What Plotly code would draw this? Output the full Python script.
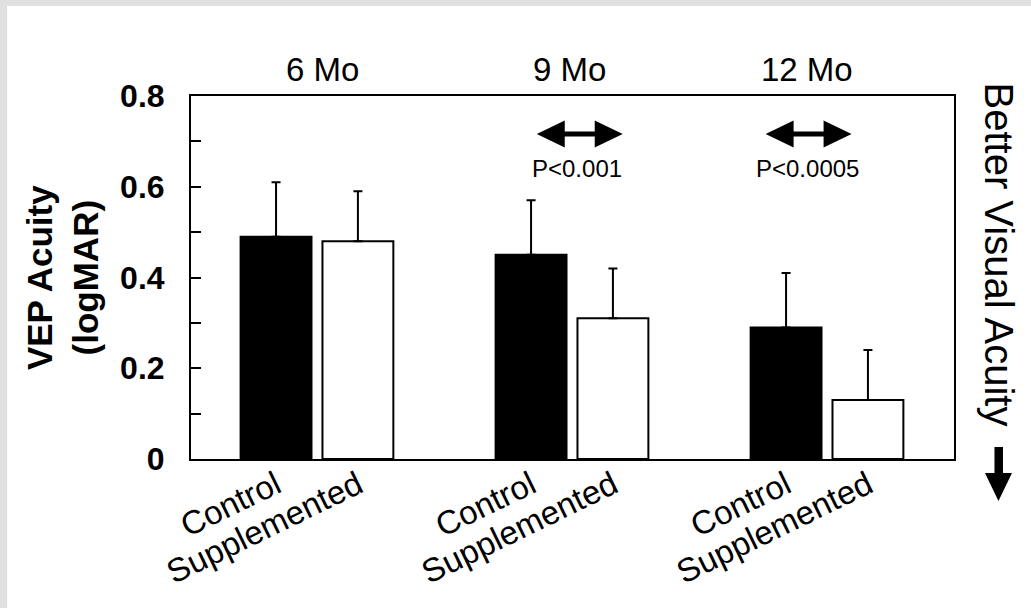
import plotly.graph_objects as go

# ---------------- data ----------------
groups = ["6 Mo", "9 Mo", "12 Mo"]
group_pos = [0, 1, 2]
control_mean = [0.49, 0.45, 0.29]
control_sd = [0.12, 0.12, 0.12]
supp_mean = [0.48, 0.31, 0.13]
supp_sd = [0.11, 0.11, 0.11]
bar_labels = ["Control", "Supplemented"]
p_values = ["", "P<0.001", "P<0.0005"]
y_tickvals = [0.0, 0.1, 0.2, 0.3, 0.4, 0.5, 0.6, 0.7, 0.8]
y_ticktext = ["0", "", "0.2", "", "0.4", "", "0.6", "", "0.8"]

# ---------------- geometry (pixels) ----------------
FIG_W, FIG_H = 1031, 608
PL, PT, PR, PB = 191, 96, 954.5, 459
PW, PH = PR - PL, PB - PT
FONT = "Liberation Sans, Arial, Helvetica, sans-serif"

def px(x):
    return (x - PL) / PW

def py(y):
    return (PB - y) / PH

def path(points):
    s = "M " + " L ".join(f"{px(x):.5f},{py(y):.5f}" for x, y in points) + " Z"
    return s

BAR_W = 0.278
GAP = 0.043
ctrl_off = -(GAP / 2 + BAR_W)
supp_off = GAP / 2

fig = go.Figure()
fig.add_trace(go.Bar(
    x=group_pos, y=control_mean, name=bar_labels[0],
    width=BAR_W, offset=ctrl_off,
    marker=dict(color="black", line=dict(color="black", width=2)),
    error_y=dict(type="data", array=control_sd, arrayminus=[0] * len(control_sd),
                 symmetric=False, thickness=2, width=4.5, color="black"),
))
fig.add_trace(go.Bar(
    x=group_pos, y=supp_mean, name=bar_labels[1],
    width=BAR_W, offset=supp_off,
    marker=dict(color="white", line=dict(color="black", width=2)),
    error_y=dict(type="data", array=supp_sd, arrayminus=[0] * len(supp_sd),
                 symmetric=False, thickness=2, width=4.5, color="black"),
))

ctr_c = ctrl_off + BAR_W / 2
sup_c = supp_off + BAR_W / 2
x_tickvals, x_ticktext = [], []
for g in group_pos:
    x_tickvals += [g + ctr_c, g + sup_c]
    x_ticktext += bar_labels

shapes = [
    # white panel over grey textured frame
    dict(type="rect", xref="paper", yref="paper", layer="below",
         x0=px(7), x1=px(FIG_W + 5), y0=py(6), y1=py(FIG_H + 5),
         fillcolor="white", line=dict(width=0)),
]

# double-headed arrows over 9 and 12 Mo
def double_arrow(cx, cy):
    return [(cx - 43, cy), (cx - 15, cy - 13.5), (cx - 15, cy - 2.5), (cx + 15, cy - 2.5),
            (cx + 15, cy - 13.5), (cx + 43, cy), (cx + 15, cy + 13.5), (cx + 15, cy + 2.5),
            (cx - 15, cy + 2.5), (cx - 15, cy + 13.5)]

arrow_cx = [None, 580, 809]
for i, cx in enumerate(arrow_cx):
    if cx is None:
        continue
    shapes.append(dict(type="path", xref="paper", yref="paper",
                       path=path(double_arrow(cx, 134)),
                       fillcolor="black", line=dict(width=0)))

# down arrow at right
shapes.append(dict(type="path", xref="paper", yref="paper",
                   path=path([(995, 447), (1003.5, 447), (1003.5, 473), (1012.5, 473),
                              (999, 501), (985.5, 473), (995, 473)]),
                   fillcolor="black", line=dict(width=0)))

annotations = []
title_cx = [323, 570, 807]
for g, cx in zip(groups, title_cx):
    annotations.append(dict(text=g, xref="paper", yref="paper", x=px(cx), y=py(69),
                            xanchor="center", yanchor="middle", showarrow=False,
                            font=dict(family=FONT, size=33, color="black")))
p_cx = [None, 577, 808]
for p, cx in zip(p_values, p_cx):
    if not p:
        continue
    annotations.append(dict(text=p, xref="paper", yref="paper", x=px(cx), y=py(168),
                            xanchor="center", yanchor="middle", showarrow=False,
                            font=dict(family=FONT, size=24, color="black")))

annotations.append(dict(text="<b>VEP Acuity</b><br><b>(logMAR)</b>", xref="paper", yref="paper",
                        x=px(62), y=py(278), xanchor="center", yanchor="middle",
                        textangle=-90, showarrow=False,
                        font=dict(family=FONT, size=35, color="black")))
annotations.append(dict(text="Better Visual Acuity", xref="paper", yref="paper",
                        x=px(1000), y=py(255), xanchor="center", yanchor="middle",
                        textangle=90, showarrow=False,
                        font=dict(family=FONT, size=40, color="black")))

fig.update_layout(
    width=FIG_W, height=FIG_H,
    margin=dict(l=PL, r=FIG_W - PR, t=PT, b=FIG_H - PB, pad=0),
    paper_bgcolor="#e0e0e0", plot_bgcolor="white",
    showlegend=False, barmode="overlay",
    shapes=shapes, annotations=annotations,
    font=dict(family=FONT, color="black"),
)
fig.update_xaxes(range=[-0.494, 2.498], tickvals=x_tickvals, ticktext=x_ticktext,
                 tickangle=-26, tickfont=dict(family=FONT, size=33, color="black"),
                 ticklabelstandoff=-8,
                 showline=True, linecolor="black", linewidth=2, mirror=True,
                 ticks="", showgrid=False, zeroline=False)
fig.update_yaxes(range=[0, 0.8], tickvals=y_tickvals, ticktext=y_ticktext,
                 tickfont=dict(family=FONT, size=32, color="black", weight="bold"),
                 ticks="inside", ticklen=10, tickwidth=2, tickcolor="black",
                 ticklabelstandoff=18,
                 showline=True, linecolor="black", linewidth=2, mirror=True,
                 showgrid=False, zeroline=False)

fig.write_html("out.html")
